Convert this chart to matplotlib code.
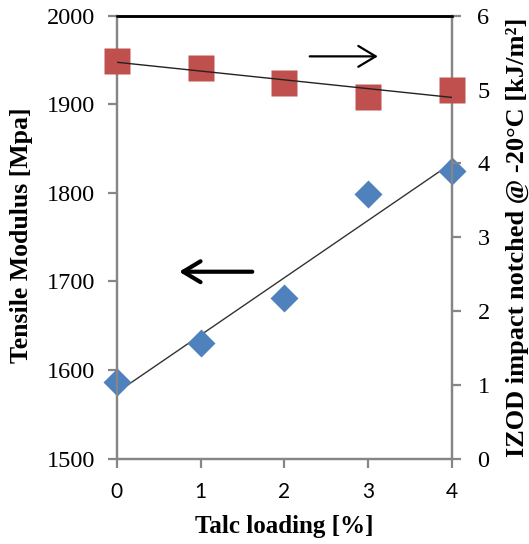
import matplotlib
matplotlib.use("Agg")
import matplotlib.pyplot as plt
import numpy as np

talc = [0, 1, 2, 3, 4]
tensile_modulus = [1586, 1630, 1681, 1799, 1825]
izod_impact = [5.39, 5.29, 5.09, 4.90, 4.99]
x_ticks = [0, 1, 2, 3, 4]
left_ticks = [1500, 1600, 1700, 1800, 1900, 2000]
right_ticks = [0, 1, 2, 3, 4, 5, 6]

plt.rcParams['font.family'] = ['Liberation Serif', 'DejaVu Serif']
GRAY = '#868686'

fig = plt.figure(figsize=(5.29, 5.44), dpi=100)
ax = fig.add_axes([0.221, 0.157, 0.633, 0.814])
ax2 = ax.twinx()

blue = '#4F81BD'
red = '#C0504D'

ax.plot(talc, tensile_modulus, linestyle='none', marker='D', ms=14.5,
        color=blue, mec='none', zorder=3, clip_on=False)
p1 = np.polyfit(talc, tensile_modulus, 1)
xs = np.array([talc[0], talc[-1]])
ax.plot(xs, np.polyval(p1, xs), color='#333333', lw=1.0, zorder=2)

ax2.plot(talc, izod_impact, linestyle='none', marker='s', ms=19,
         color=red, mec='none', zorder=3, clip_on=False)
p2 = np.polyfit(talc, izod_impact, 1)
ax2.plot(xs, np.polyval(p2, xs), color='#222222', lw=1.0, zorder=4)

ax.set_xlim(0, 4)
ax.set_ylim(1500, 2000)
ax2.set_ylim(0, 6)
ax.set_xticks(x_ticks)
ax.set_yticks(left_ticks)
ax2.set_yticks(right_ticks)

for a in (ax, ax2):
    for s in ('left', 'right', 'bottom'):
        a.spines[s].set_color(GRAY)
        a.spines[s].set_linewidth(1.6)
    a.spines['top'].set_color('black')
    a.spines['top'].set_linewidth(1.8)

ax.tick_params(axis='y', direction='out', length=6.5, width=1.6, color=GRAY,
               labelsize=17.5, pad=9)
ax.tick_params(axis='x', direction='out', length=6.5, width=1.6, color=GRAY,
               labelsize=15, pad=10)
for lbl in ax.get_xticklabels():
    lbl.set_family(['Lato', 'DejaVu Sans'])
ax2.tick_params(axis='y', direction='out', length=6.5, width=1.6, color=GRAY,
                labelsize=17.5, pad=12)

ax.set_xlabel('Talc loading [%]', fontsize=18, fontweight='bold', labelpad=10)
ax.set_ylabel('Tensile Modulus [Mpa]', fontsize=18.5, fontweight='bold')
ax2.set_ylabel('IZOD impact notched @ -20°C [kJ/m²]', fontsize=19,
               fontweight='bold')
ax.yaxis.set_label_coords(-0.252, 0.505)
ax2.yaxis.set_label_coords(1.16, 0.5)

# direction arrows
ax.annotate('', xy=(0.71, 1711), xytext=(1.65, 1711),
            arrowprops=dict(arrowstyle='->,head_length=0.5,head_width=0.3',
                            color='black', lw=3, mutation_scale=25))
ax2.annotate('', xy=(3.15, 5.45), xytext=(2.27, 5.45),
             arrowprops=dict(arrowstyle='->,head_length=0.5,head_width=0.3',
                             color='black', lw=1.6, mutation_scale=25))

fig.savefig('out.png', dpi=100)
